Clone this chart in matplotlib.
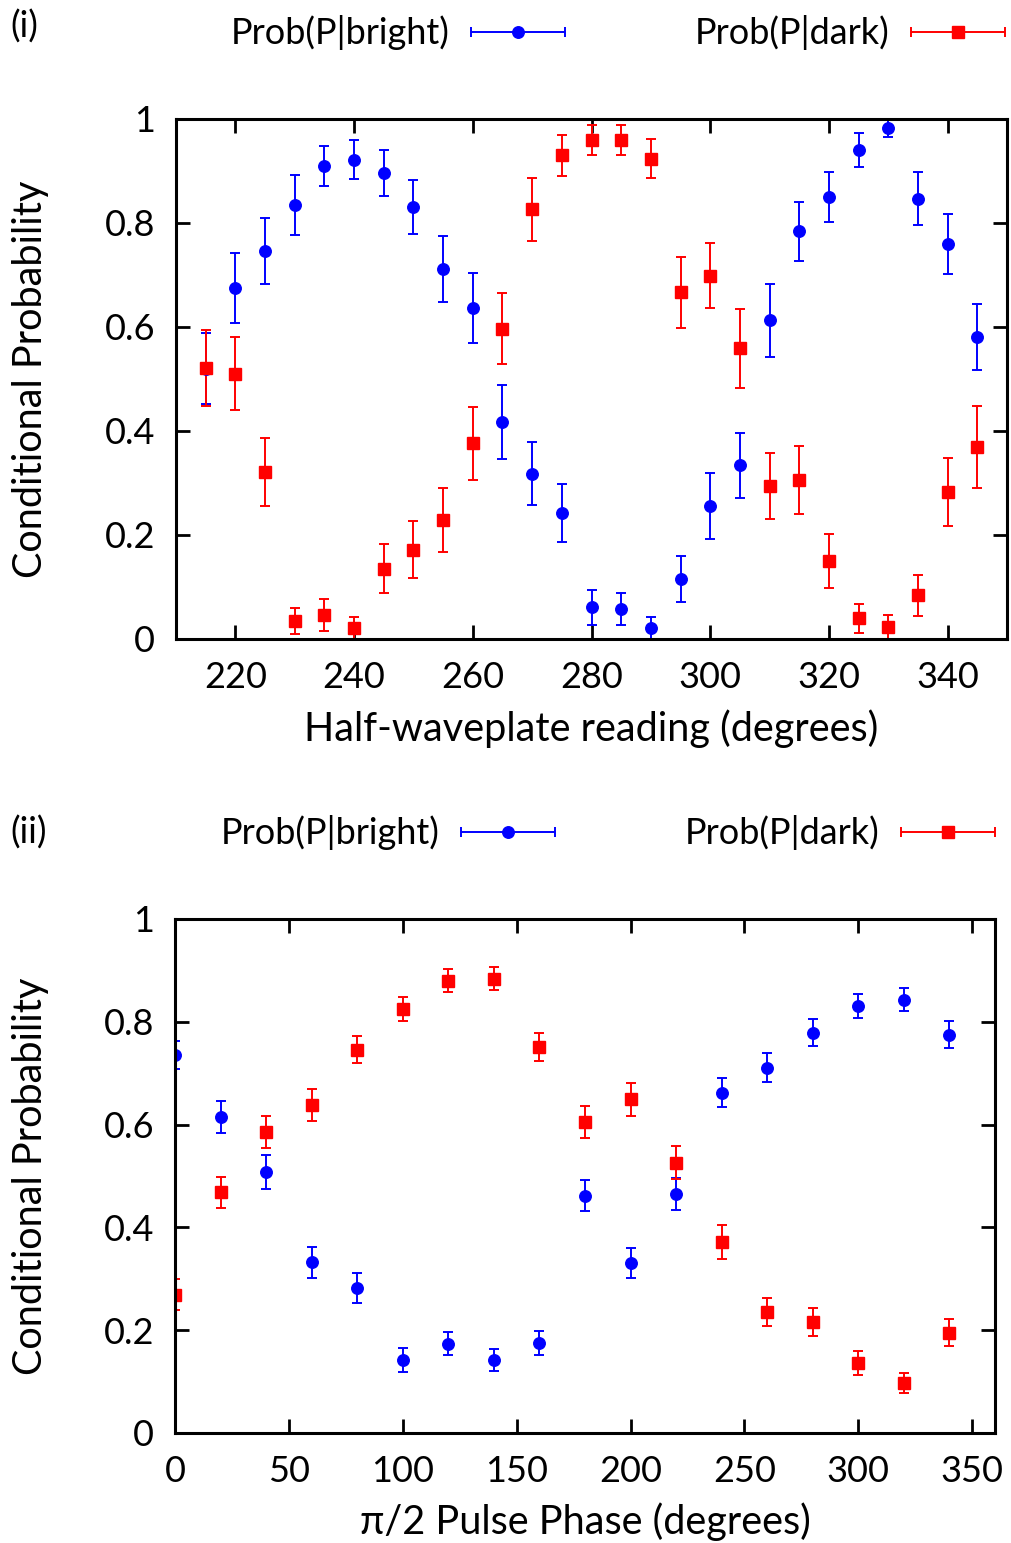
import matplotlib
matplotlib.use("Agg")
import matplotlib.pyplot as plt
from matplotlib.container import ErrorbarContainer
from matplotlib.legend_handler import HandlerErrorbar
from matplotlib.ticker import FuncFormatter, MultipleLocator

plt.rcParams['font.family'] = ['Lato', 'DejaVu Sans']

# panel (i): half-waveplate scan
hwp_angle = [215, 220, 225, 230, 235, 240, 245, 250, 255, 260, 265, 270, 275, 280,
             285, 290, 295, 300, 305, 310, 315, 320, 325, 330, 335, 340, 345]
hwp_bright = [0.520, 0.675, 0.746, 0.834, 0.910, 0.922, 0.896, 0.830, 0.712, 0.636,
              0.417, 0.318, 0.243, 0.061, 0.058, 0.021, 0.116, 0.256, 0.334, 0.613,
              0.784, 0.850, 0.940, 0.982, 0.847, 0.760, 0.581]
hwp_bright_err = [0.069, 0.068, 0.064, 0.058, 0.039, 0.038, 0.044, 0.052, 0.063, 0.067,
                  0.071, 0.061, 0.056, 0.034, 0.031, 0.021, 0.044, 0.064, 0.062, 0.070,
                  0.057, 0.049, 0.033, 0.016, 0.051, 0.058, 0.063]
hwp_dark = [0.522, 0.510, 0.321, 0.034, 0.046, 0.021, 0.135, 0.172, 0.229, 0.376,
            0.597, 0.826, 0.930, 0.960, 0.959, 0.924, 0.667, 0.699, 0.559, 0.294,
            0.306, 0.150, 0.040, 0.023, 0.084, 0.283, 0.369]
hwp_dark_err = [0.073, 0.070, 0.065, 0.025, 0.031, 0.021, 0.047, 0.055, 0.061, 0.071,
                0.069, 0.061, 0.040, 0.029, 0.029, 0.037, 0.068, 0.063, 0.076, 0.064,
                0.065, 0.052, 0.028, 0.023, 0.040, 0.066, 0.079]

# panel (ii): pi/2 pulse phase scan
phase = [0, 20, 40, 60, 80, 100, 120, 140, 160, 180, 200, 220, 240, 260, 280, 300, 320, 340]
phase_bright = [0.736, 0.615, 0.507, 0.332, 0.282, 0.142, 0.174, 0.142, 0.175, 0.462,
                0.331, 0.465, 0.662, 0.711, 0.779, 0.831, 0.843, 0.775]
phase_bright_err = [0.027, 0.031, 0.033, 0.030, 0.030, 0.023, 0.023, 0.021, 0.023, 0.031,
                    0.029, 0.031, 0.028, 0.029, 0.026, 0.023, 0.022, 0.026]
phase_dark = [0.269, 0.468, 0.586, 0.638, 0.746, 0.825, 0.880, 0.884, 0.751, 0.605,
              0.649, 0.526, 0.372, 0.235, 0.216, 0.136, 0.097, 0.195]
phase_dark_err = [0.030, 0.031, 0.031, 0.031, 0.027, 0.024, 0.022, 0.022, 0.028, 0.032,
                  0.032, 0.032, 0.033, 0.027, 0.028, 0.023, 0.019, 0.026]

FS = 26
LABEL_FS = 28.5


def draw_panel(ax, x, bright, bright_err, dark, dark_err):
    """Draw both series with error bars and return legend handles."""
    handles = []
    for y, err, color, marker, ms, label in [
            (bright, bright_err, '#0000ff', 'o', 8.3, 'Prob(P|bright)'),
            (dark, dark_err, '#ff0000', 's', 8.3, 'Prob(P|dark)')]:
        eb = ax.errorbar(x, y, yerr=err, fmt=marker, color=color, ms=ms,
                         elinewidth=1.4, capsize=3.6, capthick=1.4)
        handles.append(ErrorbarContainer(eb.lines, has_xerr=True, has_yerr=False,
                                         label=label))
    return handles


def style_panel(ax, xlabel, xlim, xstep, label_x, label_y):
    ax.set_xlim(*xlim)
    ax.set_ylim(0, 1)
    ax.xaxis.set_major_locator(MultipleLocator(xstep))
    ax.yaxis.set_major_locator(MultipleLocator(0.2))
    ax.yaxis.set_major_formatter(FuncFormatter(lambda v, p: f"{v:g}"))
    ax.tick_params(direction='in', length=10, width=2, top=True, right=True,
                   labelsize=FS)
    ax.tick_params(axis='x', pad=16)
    ax.tick_params(axis='y', pad=15)
    for s in ax.spines.values():
        s.set_linewidth(2.2)
    ax.set_xlabel(xlabel, fontsize=LABEL_FS, va='center')
    ax.set_ylabel("Conditional Probability", fontsize=LABEL_FS, va='center')
    ax.xaxis.set_label_coords(0.5, label_y)
    ax.yaxis.set_label_coords(label_x, 0.5)


def add_legend(ax, fig, handles, right, ymid):
    ax.legend(handles=handles, ncol=2, loc='center right', frameon=False,
              markerfirst=False, fontsize=FS, handlelength=2.6,
              handletextpad=0.6, columnspacing=3.6, borderaxespad=0,
              borderpad=0,
              handler_map={ErrorbarContainer: HandlerErrorbar(xerr_size=1.3)},
              bbox_to_anchor=(right, ymid), bbox_transform=fig.transFigure)


fig = plt.figure(figsize=(10.11, 15.43), dpi=100)
ax1 = fig.add_axes([176 / 1011, 1 - 639 / 1543, 831 / 1011, 520 / 1543])
ax2 = fig.add_axes([175 / 1011, 1 - 1433 / 1543, 820 / 1011, 514 / 1543])

h1 = draw_panel(ax1, hwp_angle, hwp_bright, hwp_bright_err, hwp_dark, hwp_dark_err)
style_panel(ax1, "Half-waveplate reading (degrees)", (210, 350), 20, -0.175, -0.173)
add_legend(ax1, fig, h1, 1005 / 1011, 1 - 33 / 1543)

h2 = draw_panel(ax2, phase, phase_bright, phase_bright_err, phase_dark, phase_dark_err)
style_panel(ax2, "π/2 Pulse Phase (degrees)", (0, 360), 50, -0.176, -0.173)
add_legend(ax2, fig, h2, 995 / 1011, 1 - 833 / 1543)

fig.text(10 / 1011, 1 - 27 / 1543, "(i)", fontsize=FS, va='center', ha='left')
fig.text(10 / 1011, 1 - 833 / 1543, "(ii)", fontsize=FS, va='center', ha='left')

fig.savefig("out.png", dpi=100)
